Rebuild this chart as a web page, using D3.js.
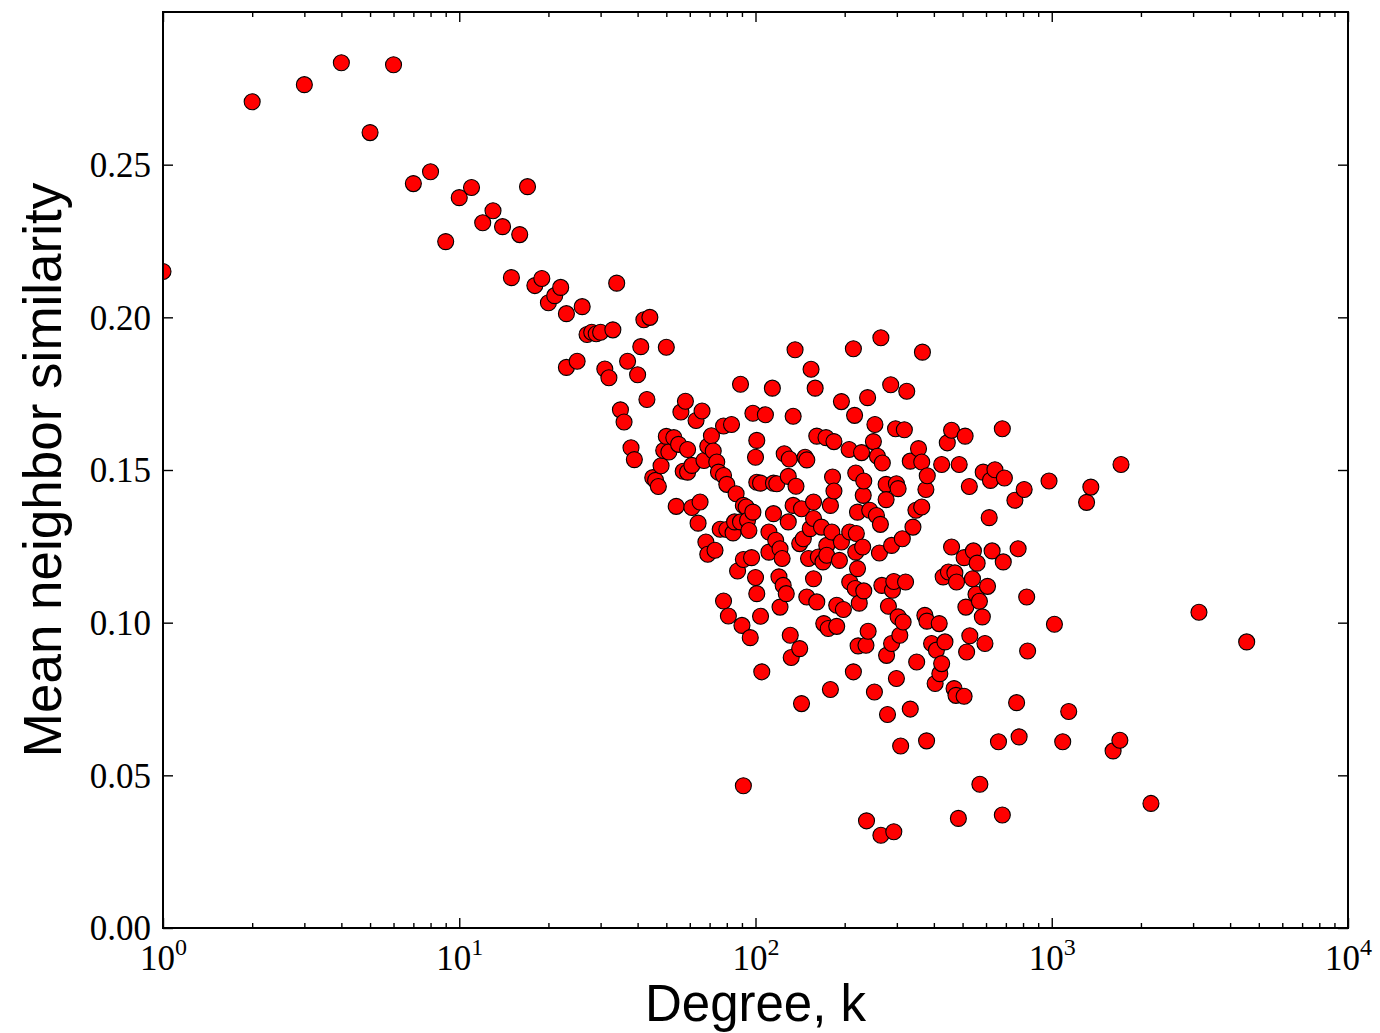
<!DOCTYPE html>
<html>
<head>
<meta charset="utf-8">
<script src="https://cdn.jsdelivr.net/npm/d3@7"></script>
<style>
  html, body { margin: 0; padding: 0; background: #fff; }
  svg { display: block; }
</style>
</head>
<body>
<svg id="chart"></svg>
<script>
// degree k of each node (x) and its mean neighbor similarity (y)
const degree = [
  1, 2, 3, 4, 5, 6, 7, 8, 9, 10, 11, 12, 13, 14, 15, 16, 17, 18, 19, 20,
  21, 22, 23, 23, 25, 26, 27, 28, 29, 30, 31, 32, 33, 34, 35, 36, 37, 38, 39, 40,
  41, 42, 43, 44, 45, 46, 47, 48, 49, 50, 50, 51, 53, 54, 55, 56, 57, 58, 59, 59,
  61, 61, 63, 64, 65, 66, 67, 68, 69, 69, 71, 72, 73, 74, 75, 76, 78, 78, 78, 80,
  80, 81, 83, 84, 85, 86, 87, 89, 89, 90, 91, 91, 91, 93, 94, 95, 96, 97, 98, 98,
  100, 100, 101, 101, 101, 104, 104, 105, 108, 111, 111, 114, 115, 115, 117, 118, 120, 121, 121, 123,
  124, 125, 127, 129, 129, 130, 131, 132, 134, 134, 136, 137, 141, 141, 143, 143, 145, 147, 149, 149,
  151, 153, 154, 157, 157, 157, 159, 161, 161, 163, 167, 169, 170, 173, 174, 174, 176, 179, 179, 181,
  182, 184, 184, 188, 188, 192, 195, 195, 198, 207, 208, 208, 214, 214, 216, 217, 218, 218, 219, 221,
  221, 222, 224, 228, 230, 231, 232, 232, 236, 237, 239, 240, 243, 250, 252, 253, 256, 258, 262, 264,
  265, 265, 267, 268, 276, 276, 277, 279, 281, 286, 288, 288, 290, 293, 293, 297, 299, 299, 303, 303,
  307, 309, 313, 315, 318, 321, 324, 333, 333, 340, 348, 350, 355, 364, 364, 366, 373, 376, 378, 379,
  380, 393, 404, 408, 417, 419, 425, 425, 430, 436, 444, 448, 459, 459, 468, 471, 475, 477, 484, 487,
  506, 506, 510, 513, 516, 527, 529, 540, 544, 555, 560, 570, 572, 583, 587, 595, 607, 615, 621, 629,
  643, 661, 681, 681, 686, 692, 751, 761, 770, 776, 807, 823, 829, 979, 1021, 1089, 1141, 1311, 1355, 1611,
  1698, 1713, 2162, 3140, 4550
];
const similarity = [
  0.2150, 0.2706, 0.2762, 0.2834, 0.2605, 0.2827, 0.2438, 0.2477, 0.2248, 0.2392, 0.2425, 0.2310, 0.2349, 0.2297, 0.2130, 0.2271, 0.2428, 0.2104, 0.2127, 0.2048,
  0.2071, 0.2098, 0.2012, 0.1836, 0.1856, 0.2035, 0.1944, 0.1951, 0.1946, 0.1951, 0.1831, 0.1802, 0.1959, 0.2112, 0.1697, 0.1657, 0.1856, 0.1573, 0.1534, 0.1812,
  0.1904, 0.1992, 0.1731, 0.2000, 0.1475, 0.1466, 0.1446, 0.1514, 0.1564, 0.1902, 0.1610, 0.1559, 0.1606, 0.1381, 0.1584, 0.1690, 0.1496, 0.1725, 0.1567, 0.1493,
  0.1515, 0.1377, 0.1662, 0.1326, 0.1395, 0.1693, 0.1531, 0.1264, 0.1578, 0.1224, 0.1612, 0.1562, 0.1237, 0.1526, 0.1493, 0.1306, 0.1644, 0.1482, 0.1071, 0.1453,
  0.1305, 0.1022, 0.1649, 0.1294, 0.1330, 0.1422, 0.1169, 0.1781, 0.1330, 0.0991, 0.1207, 0.1384, 0.0466, 0.1379, 0.1335, 0.1302, 0.0951, 0.1213, 0.1686, 0.1362,
  0.1542, 0.1148, 0.1597, 0.1460, 0.1095, 0.1021, 0.1457, 0.0839, 0.1681, 0.1297, 0.1231, 0.1768, 0.1457, 0.1357, 0.1270, 0.1455, 0.1150, 0.1242, 0.1051, 0.1210,
  0.1122, 0.1553, 0.1095, 0.1479, 0.1330, 0.1536, 0.0959, 0.0886, 0.1676, 0.1384, 0.1894, 0.1447, 0.1259, 0.0915, 0.1373, 0.0735, 0.1275, 0.1542, 0.1533, 0.1084,
  0.1210, 0.1308, 0.1830, 0.1395, 0.1341, 0.1144, 0.1768, 0.1611, 0.1068, 0.1215, 0.1313, 0.1199, 0.0997, 0.1606, 0.1253, 0.1221, 0.0981, 0.1384, 0.0781, 0.1297,
  0.1477, 0.1593, 0.1431, 0.1057, 0.0988, 0.1204, 0.1724, 0.1264, 0.1043, 0.1567, 0.1297, 0.1133, 0.1897, 0.0839, 0.1679, 0.1112, 0.1490, 0.1231, 0.1292, 0.1362,
  0.1177, 0.0924, 0.1064, 0.1557, 0.1248, 0.1417, 0.1464, 0.1104, 0.0926, 0.0351, 0.1737, 0.0972, 0.1368, 0.1593, 0.0773, 0.1649, 0.1351, 0.1545, 0.1228, 0.1322,
  0.1933, 0.0304, 0.1122, 0.1523, 0.1453, 0.1403, 0.0893, 0.0699, 0.1054, 0.1779, 0.1253, 0.0932, 0.1106, 0.1135, 0.0315, 0.1635, 0.1455, 0.0817, 0.1439, 0.1019,
  0.0959, 0.0596, 0.1275, 0.1002, 0.1632, 0.1133, 0.1758, 0.1529, 0.0717, 0.1313, 0.1368, 0.0871, 0.1570, 0.1526, 0.1379, 0.1886, 0.1024, 0.1436, 0.0613, 0.1005,
  0.1481, 0.0932, 0.0801, 0.0910, 0.0997, 0.0833, 0.1518, 0.0866, 0.1150, 0.0937, 0.1589, 0.1166, 0.1630, 0.1248, 0.0784, 0.1163, 0.0762, 0.1133, 0.0359, 0.1518,
  0.1213, 0.0759, 0.1611, 0.1051, 0.0904, 0.1446, 0.0957, 0.1144, 0.1235, 0.1093, 0.1195, 0.1070, 0.0471, 0.1019, 0.1493, 0.0932, 0.1119, 0.1344, 0.1466, 0.1235,
  0.1501, 0.0610, 0.1635, 0.0370, 0.1199, 0.1474, 0.1401, 0.0738, 0.1242, 0.0626, 0.1436, 0.1084, 0.0907, 0.1464, 0.0995, 0.0610, 0.0709, 0.1394, 0.1444, 0.0580,
  0.0615, 0.1518, 0.0408, 0.1034, 0.0937
];

// tick values
const xMajorTicks = [1, 10, 100, 1000, 10000];
const xTickExponents = ['0', '1', '2', '3', '4'];
const xMinorTicks = [];
[1, 10, 100, 1000].forEach(b => { for (let m = 2; m <= 9; m++) xMinorTicks.push(b * m); });
const yTicks = [0, 0.05, 0.10, 0.15, 0.20, 0.25];
const yTickLabels = ['0.00', '0.05', '0.10', '0.15', '0.20', '0.25'];

const width = 1380, height = 1033;
const margin = { top: 12, right: 32, bottom: 105, left: 163 };
const chartWidth = width - margin.left - margin.right;
const chartHeight = height - margin.top - margin.bottom;

const svg = d3.select('#chart')
  .attr('width', width)
  .attr('height', height);

const x = d3.scaleLog()
  .domain([1, 10000])
  .range([0, chartWidth]);

const y = d3.scaleLinear()
  .domain([0, 0.3])
  .range([chartHeight, 0]);

const g = svg.append('g')
  .attr('transform', `translate(${margin.left},${margin.top})`);

svg.append('defs').append('clipPath')
  .attr('id', 'plot-clip')
  .append('rect')
  .attr('width', chartWidth)
  .attr('height', chartHeight);

const points = degree.map((k, i) => ({ k, s: similarity[i] }));

// Points
g.append('g')
  .attr('clip-path', 'url(#plot-clip)')
  .selectAll('circle')
  .data(points)
  .enter().append('circle')
  .attr('cx', d => x(d.k))
  .attr('cy', d => y(d.s))
  .attr('r', 8)
  .attr('fill', '#ff0000')
  .attr('stroke', '#000')
  .attr('stroke-width', 1.1);

const tickStyle = sel => {
  sel.select('.domain').remove();
  sel.selectAll('.tick line').attr('stroke', '#000').attr('stroke-width', 1.4);
};

// X axes (bottom + top), ticks pointing inward
g.append('g')
  .attr('transform', `translate(0,${chartHeight})`)
  .call(d3.axisBottom(x).tickValues(xMinorTicks).tickSize(-5).tickFormat(''))
  .call(tickStyle);
g.append('g')
  .call(d3.axisTop(x).tickValues(xMinorTicks).tickSize(-5).tickFormat(''))
  .call(tickStyle);
g.append('g')
  .call(d3.axisTop(x).tickValues(xMajorTicks).tickSize(-10).tickFormat(''))
  .call(tickStyle);

const xAxis = g.append('g')
  .attr('transform', `translate(0,${chartHeight})`)
  .call(d3.axisBottom(x).tickValues(xMajorTicks).tickSize(-10).tickFormat(''))
  .call(tickStyle);

xAxis.selectAll('.tick text').remove();
xAxis.selectAll('.tick').each(function (d, i) {
  const t = d3.select(this).append('text')
    .attr('y', 42)
    .attr('fill', '#000')
    .attr('text-anchor', 'middle')
    .style('font-family', '"Liberation Serif", "DejaVu Serif", serif')
    .style('font-size', '35px');
  t.append('tspan').text('10');
  t.append('tspan')
    .attr('dy', -15)
    .style('font-size', '24px')
    .text(xTickExponents[i]);
});

// Y axes (left + right)
g.append('g')
  .call(d3.axisLeft(y).tickValues(yTicks).tickSize(-10).tickPadding(12)
    .tickFormat((d, i) => yTickLabels[i]))
  .call(tickStyle)
  .selectAll('.tick text')
  .attr('fill', '#000')
  .attr('dy', '0.34em')
  .style('font-family', '"Liberation Serif", "DejaVu Serif", serif')
  .style('font-size', '35px');

g.append('g')
  .attr('transform', `translate(${chartWidth},0)`)
  .call(d3.axisRight(y).tickValues(yTicks).tickSize(-10).tickFormat(''))
  .call(tickStyle);

// Frame
g.append('rect')
  .attr('width', chartWidth)
  .attr('height', chartHeight)
  .attr('fill', 'none')
  .attr('stroke', '#000')
  .attr('stroke-width', 2);

// Axis labels
svg.append('text')
  .attr('x', margin.left + chartWidth / 2)
  .attr('y', 1021)
  .attr('text-anchor', 'middle')
  .style('font-family', '"Liberation Sans", Arial, sans-serif')
  .style('font-size', '51px')
  .text('Degree, k');

svg.append('text')
  .attr('transform', `translate(61,${margin.top + chartHeight / 2}) rotate(-90)`)
  .attr('text-anchor', 'middle')
  .style('font-family', '"Liberation Sans", Arial, sans-serif')
  .style('font-size', '53px')
  .text('Mean neighbor similarity');
</script>
</body>
</html>
